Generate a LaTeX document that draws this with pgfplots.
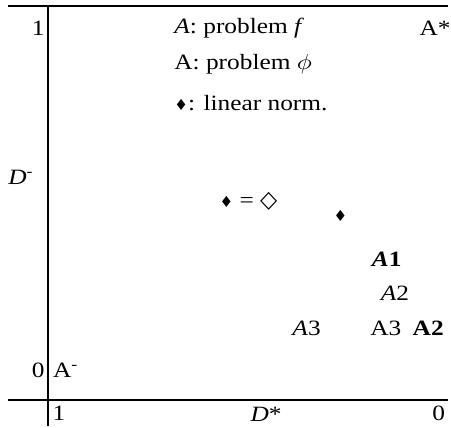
\documentclass[border=0pt]{standalone}
\usepackage{graphicx}
\usepackage{fontspec}
\setmainfont{Liberation Serif}
\newfontfamily\symfont{DejaVu Sans}
\usepackage{pgfplots}
\pgfplotsset{compat=1.18}

% symbols
\newcommand{\bdia}{{\symfont\scalebox{0.6}[0.7]{♦}}}
\newcommand{\wdia}{{\symfont\scalebox{0.88}[1.08]{◇}}}
\newcommand{\basefont}{\fontsize{11}{13}\selectfont}

\begin{document}
\begin{tikzpicture}[every node/.append style={xscale=1.16, font=\basefont}]
\begin{axis}[
  scale only axis, width=201.5pt, height=198.5pt,
  xmin=-0.0076, xmax=1.0127, ymin=-0.0870, ymax=1.0638,
  x dir=reverse,
  axis line style={draw=none}, tick style={draw=none}, major tick length=0pt,
  xtick={0,1}, xticklabels={\llap{0},\rlap{1}},
  ytick={0,1}, yticklabels={0,1},
  /pgf/number format/assume math mode=true,
  yticklabel style={inner sep=1.2pt},
  xticklabel style={inner sep=2.5pt},
  clip=false,
  every node near coord/.append style={anchor=center, inner sep=0pt},
]
% frame lines
\draw[line width=1pt] (rel axis cs:-0.0993,1) -- (rel axis cs:1,1);
\draw[line width=1pt] (rel axis cs:-0.0993,0) -- (rel axis cs:1,0);
\draw[line width=1pt] (rel axis cs:0,1) -- (rel axis cs:0,-0.0655);
\path (rel axis cs:-0.1191,1.0151) rectangle (rel axis cs:1,-0.0655);

% labelled points
\addplot[draw=none, mark=none,
  nodes near coords, point meta=explicit symbolic] coordinates {
  (0.501,0.494) [\bdia\ = \wdia]
  (0.267,0.451) [\bdia]
  (0.149,0.325) [\textbf{\textit{A}1}]
  (0.128,0.226) [\textit{A}2]
  (0.353,0.123) [\textit{A}3]
  (0.151,0.123) [A3]
  (0.043,0.123) [\textbf{A2}]
};
\addplot[draw=none, mark=none,
  nodes near coords, point meta=explicit symbolic,
  every node near coord/.append style={anchor=west}] coordinates {
  (1,0) [A\textsuperscript{-}]
};
\addplot[draw=none, mark=none,
  nodes near coords, point meta=explicit symbolic,
  every node near coord/.append style={anchor=east}] coordinates {
  (-0.015,1) [A*]
};

% key
\node[anchor=west, inner sep=0pt] at (axis cs:0.691,1) {\textit{A}: problem \textit{f}};
\node[anchor=west, inner sep=0pt] at (axis cs:0.691,0.893) {A: problem $\phi$};
\node[anchor=west, inner sep=0pt] at (axis cs:0.691,0.780) {\bdia: linear norm.};

% axis names
\node[anchor=west, inner sep=0pt] at (axis cs:1.114,0.565) {\textit{D}\textsuperscript{-}};
\node[inner sep=0pt] at (axis cs:0.456,-0.127) {\textit{D}*};
\end{axis}
\end{tikzpicture}
\end{document}
